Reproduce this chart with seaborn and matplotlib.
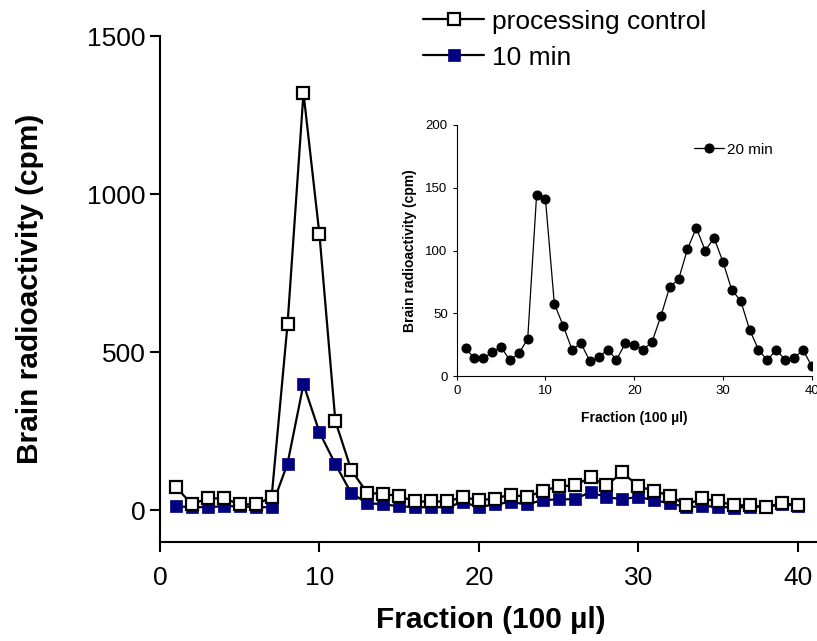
import numpy as np
import pandas as pd
import matplotlib
matplotlib.use("Agg")
import matplotlib.pyplot as plt
import seaborn as sns

sns.set_style("ticks")
plt.rcParams['font.family'] = ['Liberation Sans', 'DejaVu Sans']
plt.rcParams.update({'text.color': 'black', 'axes.labelcolor': 'black',
                     'xtick.color': 'black', 'ytick.color': 'black',
                     'axes.edgecolor': 'black'})

# Main panel data (fractions 1-40)
fraction = np.arange(1, 41)
control = [74, 19, 38, 38, 19, 19, 41, 589, 1320, 873,
           282, 127, 55, 52, 45, 28, 28, 28, 42, 32,
           37, 50, 42, 61, 76, 79, 104, 79, 120, 76,
           61, 46, 17, 38, 28, 16, 16, 10, 23, 16]
min10 = [13, 10, 10, 13, 13, 10, 10, 148, 399, 247,
         146, 54, 23, 19, 13, 10, 10, 10, 26, 10,
         19, 26, 19, 32, 35, 35, 58, 41, 36, 42,
         32, 22, 10, 13, 12, 8, 12, 10, 20, 14]

# Inset data
min20 = [22, 14, 14, 19, 23, 12.5, 18, 29.5, 144, 141,
         57.6, 40, 21, 26, 12, 15, 21, 13, 26, 25,
         21, 27, 47.5, 71, 77, 101, 118, 100, 110, 91,
         68.5, 60, 37, 21, 12.5, 21, 13, 14, 21, 8]

df = pd.DataFrame({'fraction': fraction, 'control': control,
                   'min10': min10, 'min20': min20})

fig = plt.figure(figsize=(8.17, 6.41), dpi=100)
ax = fig.add_axes([0.1958, 0.1545, 0.81, 0.7893])

sns.lineplot(data=df, x='fraction', y='min10', ax=ax, color='black', lw=1.6,
             marker='s', markersize=9, markerfacecolor='#000080',
             markeredgecolor='#000080', markeredgewidth=0.5, label='10 min', zorder=2)
sns.lineplot(data=df, x='fraction', y='control', ax=ax, color='black', lw=1.6,
             marker='s', markersize=9, markerfacecolor='white',
             markeredgecolor='black', markeredgewidth=1.6,
             label='processing control', zorder=3)

ax.set_xlim(0, 41.5)
ax.set_ylim(-100, 1500)
ax.set_xticks([0, 10, 20, 30, 40])
ax.set_yticks([0, 500, 1000, 1500])
ax.tick_params(labelsize=19, width=1.5, length=7)
ax.tick_params(axis='x', pad=10)
for s in ['left', 'bottom']:
    ax.spines[s].set_linewidth(1.5)
sns.despine(ax=ax)
ax.set_xlabel('Fraction (100 \u00b5l)', fontsize=21.5, fontweight='bold', labelpad=12)
ax.set_ylabel('Brain radioactivity (cpm)', fontsize=21.5, fontweight='bold', labelpad=31)

h, l = ax.get_legend_handles_labels()
ax.legend(h[::-1], l[::-1], loc='upper left', bbox_to_anchor=(0.362, 1.099),
          frameon=False, fontsize=19, handlelength=2.3, labelspacing=0.45,
          handletextpad=0.3)

# Inset
axi = fig.add_axes([0.559, 0.4134, 0.4345, 0.3916])
sns.lineplot(data=df, x='fraction', y='min20', ax=axi, color='black', lw=0.9,
             marker='o', markersize=6.5, markerfacecolor='black',
             markeredgecolor='black', label='20 min')
axi.set_xlim(0, 40)
axi.set_ylim(0, 200)
axi.set_xticks([0, 10, 20, 30, 40])
axi.set_yticks([0, 50, 100, 150, 200])
axi.tick_params(labelsize=9.5, width=0.8, length=3)
sns.despine(ax=axi)
axi.set_xlabel('Fraction (100 \u00b5l)', fontsize=10, fontweight='bold', labelpad=10)
axi.set_ylabel('Brain radioactivity (cpm)', fontsize=10, fontweight='bold', labelpad=6)
axi.legend(loc='upper right', bbox_to_anchor=(0.93, 0.985), frameon=False,
           fontsize=11, handlelength=2.0, handletextpad=0.2)

fig.savefig('out.png', dpi=100)
